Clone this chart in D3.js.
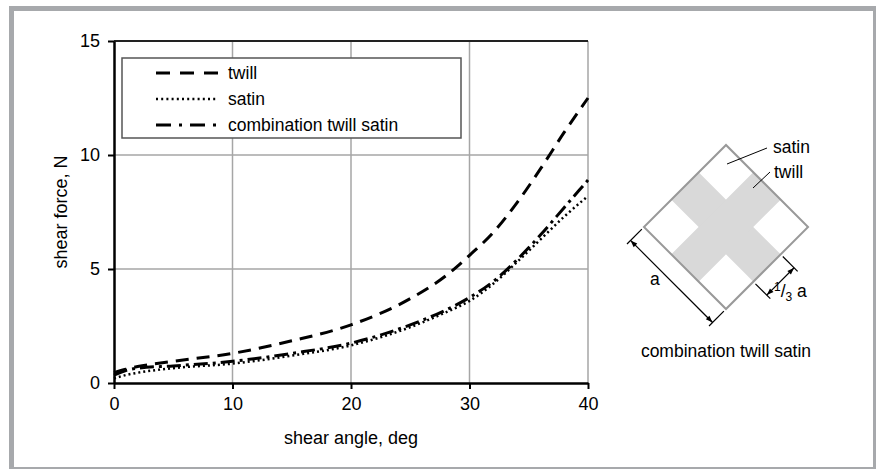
<!DOCTYPE html>
<html>
<head>
<meta charset="utf-8">
<script src="https://cdn.jsdelivr.net/npm/d3@7"></script>
<style>
  body { margin: 0; background: #fff; }
  text { font-family: "Liberation Sans", Arial, sans-serif; fill: #000; }
</style>
</head>
<body>
<svg id="chart" width="877" height="470"></svg>
<script>
// data
const angles = [0, 1, 2, 5, 10, 15, 20, 25, 28, 30, 32, 34, 36, 38, 40];
const twill = [0.45, 0.6, 0.72, 0.95, 1.3, 1.85, 2.55, 3.7, 4.7, 5.6, 6.6, 7.9, 9.4, 11.0, 12.5];
const satin = [0.2, 0.35, 0.45, 0.65, 0.85, 1.2, 1.65, 2.45, 3.1, 3.6, 4.35, 5.3, 6.3, 7.3, 8.2];
const combo = [0.35, 0.55, 0.65, 0.75, 0.95, 1.3, 1.75, 2.55, 3.2, 3.75, 4.45, 5.4, 6.5, 7.7, 8.9];
const xTicks = [0, 10, 20, 30, 40];
const yTicks = [0, 5, 10, 15];
const seriesNames = ['twill', 'satin', 'combination twill satin'];
const dashes = ['13,8', '2,3', '14,5,3,5'];

const svg = d3.select('#chart');

// outer frame
svg.append('rect').attr('x', 9).attr('y', 6).attr('width', 867).attr('height', 463).attr('fill', '#a7a9ac');
svg.append('rect').attr('x', 14).attr('y', 11).attr('width', 859).attr('height', 456).attr('fill', '#fff');

const x = d3.scaleLinear().domain([0, 40]).range([114, 588]);
const y = d3.scaleLinear().domain([0, 15]).range([383, 41]);

// grid
const grid = svg.append('g');
grid.selectAll('.vg').data(xTicks.slice(1)).join('line')
  .attr('x1', d => x(d)).attr('x2', d => x(d))
  .attr('y1', y(0)).attr('y2', y(15))
  .attr('stroke', '#a6a6a6').attr('stroke-width', 1.5);
grid.selectAll('.hg').data(yTicks.slice(1, -1)).join('line')
  .attr('x1', x(0)).attr('x2', x(40))
  .attr('y1', d => y(d)).attr('y2', d => y(d))
  .attr('stroke', '#a6a6a6').attr('stroke-width', 1.5);
svg.append('line')
  .attr('x1', x(0)).attr('x2', x(40)).attr('y1', y(15)).attr('y2', y(15))
  .attr('stroke', '#222').attr('stroke-width', 2);

// axes
const xAxis = d3.axisBottom(x).tickValues(xTicks).tickSize(6).tickPadding(8).tickSizeOuter(0);
const yAxis = d3.axisLeft(y).tickValues(yTicks).tickSize(6).tickPadding(8).tickSizeOuter(0);

const gx = svg.append('g').attr('transform', `translate(0,${y(0)})`).call(xAxis);
const gy = svg.append('g').attr('transform', `translate(${x(0)},0)`).call(yAxis);
[gx, gy].forEach(g => {
  g.select('.domain').attr('stroke', '#000').attr('stroke-width', 2.5);
  g.selectAll('.tick line').attr('stroke', '#000').attr('stroke-width', 2);
  g.selectAll('.tick text').attr('font-size', 18).attr('font-family', '"Liberation Sans", Arial, sans-serif');
});

svg.append('text').attr('x', 351).attr('y', 444).attr('text-anchor', 'middle')
  .attr('font-size', 18).text('shear angle, deg');
svg.append('text').attr('transform', 'translate(67,212) rotate(-90)').attr('text-anchor', 'middle')
  .attr('font-size', 18).text('shear force, N');

// curves
const series = [twill, satin, combo];
const line = d3.line().x(d => x(d[0])).y(d => y(d[1])).curve(d3.curveMonotoneX);
series.forEach((s, i) => {
  svg.append('path')
    .datum(angles.map((a, j) => [a, s[j]]))
    .attr('d', line)
    .attr('fill', 'none')
    .attr('stroke', '#000')
    .attr('stroke-width', i === 1 ? 2.5 : 3)
    .attr('stroke-dasharray', dashes[i]);
});

// legend
const legend = svg.append('g');
legend.append('rect').attr('x', 122).attr('y', 58).attr('width', 339).attr('height', 80)
  .attr('fill', '#fff').attr('stroke', '#555').attr('stroke-width', 1.5);
seriesNames.forEach((n, i) => {
  const ly = 73 + i * 26;
  legend.append('line').attr('x1', 156).attr('x2', 218).attr('y1', ly).attr('y2', ly)
    .attr('stroke', '#000').attr('stroke-width', i === 1 ? 2.5 : 3)
    .attr('stroke-dasharray', i === 0 ? '14,10' : i === 1 ? '2,3.2' : '15,8,3,8');
  legend.append('text').attr('x', 228).attr('y', ly + 6).attr('font-size', 17.5).text(n);
});

// weave diagram: square rotated 45deg, gray cross of width a/3
const cx = 726, cy = 227, a = 116;
const dg = svg.append('g').attr('transform', `translate(${cx},${cy}) rotate(45)`);
dg.append('rect').attr('x', -a / 2).attr('y', -a / 2).attr('width', a).attr('height', a).attr('fill', '#fff');
dg.append('rect').attr('x', -a / 2).attr('y', -a / 6).attr('width', a).attr('height', a / 3).attr('fill', '#d9d9d9');
dg.append('rect').attr('x', -a / 6).attr('y', -a / 2).attr('width', a / 3).attr('height', a).attr('fill', '#d9d9d9');
dg.append('rect').attr('x', -a / 2).attr('y', -a / 2).attr('width', a).attr('height', a)
  .attr('fill', 'none').attr('stroke', '#999').attr('stroke-width', 2);

// dimension lines in the rotated frame
const dim = dg.append('g').attr('stroke', '#000').attr('stroke-width', 1.2);
dim.append('line').attr('x1', -a / 2).attr('y1', a / 2 + 3).attr('x2', -a / 2).attr('y2', a / 2 + 24);
dim.append('line').attr('x1', a / 2).attr('y1', a / 2 + 3).attr('x2', a / 2).attr('y2', a / 2 + 24);
dim.append('line').attr('x1', -a / 2).attr('y1', a / 2 + 19).attr('x2', a / 2).attr('y2', a / 2 + 19);
dim.append('line').attr('x1', a / 2 + 3).attr('y1', a / 6).attr('x2', a / 2 + 24).attr('y2', a / 6);
dim.append('line').attr('x1', a / 2 + 3).attr('y1', -a / 6).attr('x2', a / 2 + 24).attr('y2', -a / 6);
dim.append('line').attr('x1', a / 2 + 19).attr('y1', -a / 6).attr('x2', a / 2 + 19).attr('y2', a / 6);
const arrow = (px, py, rot) => dg.append('path')
  .attr('d', 'M0,0 L7,-2.5 L7,2.5 Z')
  .attr('transform', `translate(${px},${py}) rotate(${rot})`).attr('fill', '#000');
arrow(-a / 2, a / 2 + 19, 0);
arrow(a / 2, a / 2 + 19, 180);
arrow(a / 2 + 19, -a / 6, 90);
arrow(a / 2 + 19, a / 6, -90);

// labels
const lab = svg.append('g');
lab.append('line').attr('x1', 727).attr('y1', 164).attr('x2', 767).attr('y2', 148).attr('stroke', '#000').attr('stroke-width', 1);
lab.append('line').attr('x1', 753).attr('y1', 188).attr('x2', 770).attr('y2', 172).attr('stroke', '#000').attr('stroke-width', 1);
lab.append('text').attr('x', 773).attr('y', 153).attr('font-size', 17.5).text('satin');
lab.append('text').attr('x', 774).attr('y', 178).attr('font-size', 17.5).text('twill');
lab.append('text').attr('x', 650).attr('y', 285).attr('font-size', 17.5).text('a');
const frac = lab.append('text').attr('x', 774).attr('y', 297).attr('font-size', 17.5);
frac.append('tspan').attr('font-size', 12).attr('dy', -6).text('1');
frac.append('tspan').attr('dy', 6).text('/');
frac.append('tspan').attr('font-size', 12).attr('dy', 4).text('3');
frac.append('tspan').attr('dy', -4).text(' a');
lab.append('text').attr('x', 726).attr('y', 357).attr('text-anchor', 'middle').attr('font-size', 17.5)
  .text('combination twill satin');
</script>
</body>
</html>
